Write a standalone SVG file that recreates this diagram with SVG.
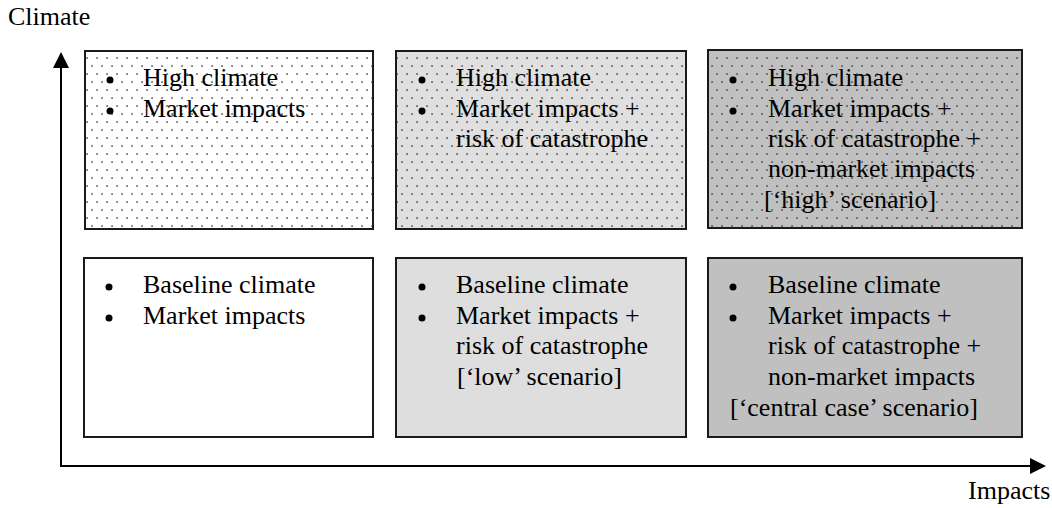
<svg xmlns="http://www.w3.org/2000/svg" width="1052" height="508" viewBox="0 0 1052 508">
<style>
text{font-family:"Liberation Serif","Times New Roman",serif;font-size:26px;fill:#000}
.box{stroke:#1a1a1a;stroke-width:2}
.axis{stroke:#000;stroke-width:2;fill:none}
.blt{fill:#000}
</style>
<defs>
<pattern id="dots" x="0" y="0" width="10" height="16" patternUnits="userSpaceOnUse">
<rect x="1.3" y="1.3" width="1.5" height="1.5" fill="#3a3a3a"/>
<rect x="6.3" y="9.3" width="1.5" height="1.5" fill="#3a3a3a"/>
</pattern>
</defs>
<text x="8" y="25">Climate</text>
<text x="968" y="499">Impacts</text>
<g id="connectors">
<line class="axis" x1="61" y1="466" x2="61" y2="64"/>
<polygon points="61,52 53,68 69,68" fill="#000"/>
<line class="axis" x1="60" y1="466" x2="1032" y2="466"/>
<polygon points="1046,466 1030,458 1030,474" fill="#000"/>
</g>
<g id="n1">
<rect class="box" x="85" y="51" width="288" height="178" fill="#fff"/>
<rect x="86" y="52" width="286" height="176" fill="url(#dots)"/>
<circle class="blt" cx="110" cy="80" r="3.5"/>
<circle class="blt" cx="110" cy="111" r="3.5"/>
<text x="143" y="86">High climate</text>
<text x="143" y="117">Market impacts</text>
</g>
<g id="n2">
<rect class="box" x="396" y="51" width="290" height="178" fill="#e0e0e0"/>
<rect x="397" y="52" width="288" height="176" fill="url(#dots)"/>
<circle class="blt" cx="422" cy="80" r="3.5"/>
<circle class="blt" cx="422" cy="111" r="3.5"/>
<text x="456" y="86">High climate</text>
<text x="456" y="117">Market impacts +</text>
<text x="456" y="147">risk of catastrophe</text>
</g>
<g id="n3">
<rect class="box" x="708" y="50" width="314" height="178" fill="#c0c0c0"/>
<rect x="709" y="51" width="312" height="176" fill="url(#dots)"/>
<circle class="blt" cx="733" cy="80" r="3.5"/>
<circle class="blt" cx="733" cy="111" r="3.5"/>
<text x="768" y="86">High climate</text>
<text x="768" y="117">Market impacts +</text>
<text x="768" y="147">risk of catastrophe +</text>
<text x="768" y="177">non-market impacts</text>
<text x="764" y="208">[‘high’ scenario]</text>
</g>
<g id="n4">
<rect class="box" x="84" y="258" width="289" height="179" fill="#fff"/>
<circle class="blt" cx="109" cy="287" r="3.5"/>
<circle class="blt" cx="109" cy="318" r="3.5"/>
<text x="143" y="293">Baseline climate</text>
<text x="143" y="324">Market impacts</text>
</g>
<g id="n5">
<rect class="box" x="396" y="258" width="290" height="179" fill="#dedede"/>
<circle class="blt" cx="422" cy="287" r="3.5"/>
<circle class="blt" cx="422" cy="318" r="3.5"/>
<text x="456" y="293">Baseline climate</text>
<text x="456" y="324">Market impacts +</text>
<text x="456" y="354">risk of catastrophe</text>
<text x="457" y="385">[‘low’ scenario]</text>
</g>
<g id="n6">
<rect class="box" x="708" y="258" width="314" height="179" fill="#c0c0c0"/>
<circle class="blt" cx="733" cy="287" r="3.5"/>
<circle class="blt" cx="733" cy="318" r="3.5"/>
<text x="768" y="293">Baseline climate</text>
<text x="768" y="324">Market impacts +</text>
<text x="768" y="354">risk of catastrophe +</text>
<text x="768" y="385">non-market impacts</text>
<text x="730" y="416">[‘central case’ scenario]</text>
</g>
</svg>
